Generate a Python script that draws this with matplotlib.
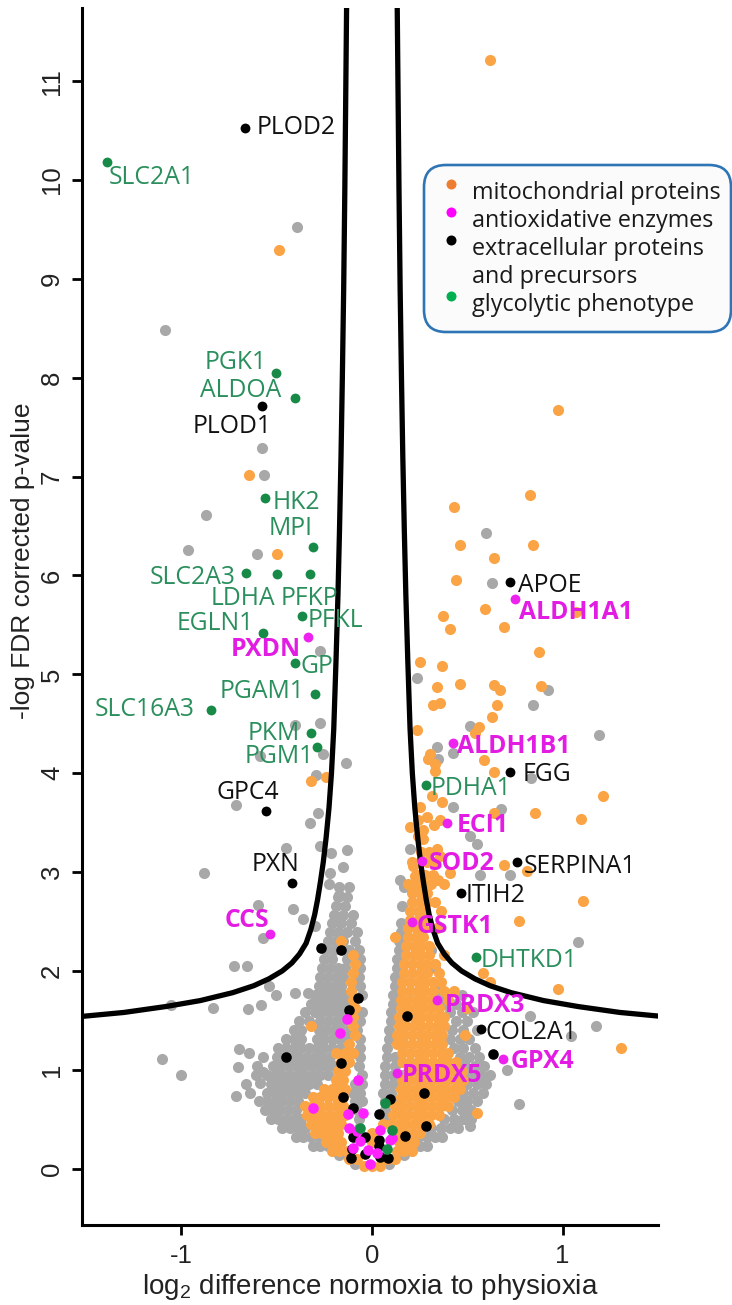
import matplotlib
matplotlib.use("Agg")
import matplotlib.pyplot as plt
from matplotlib.patches import FancyBboxPatch
from matplotlib.lines import Line2D

W, H = 732, 1305

# --- background proteins (y, [x ...]) ---
grey_rows = [
    (0.05, [-0.09, 0.09]),
    (0.14, [-0.17, -0.13, 0.13, 0.17]),
    (0.23, [-0.31, -0.27, -0.23, 0.21, 0.25, 0.29]),
    (0.32, [-0.40, -0.36, -0.32, -0.28, 0.24, 0.29, 0.33, 0.37]),
    (0.41, [-0.47, -0.43, -0.39, -0.35, -0.07, 0.31, 0.36, 0.41, 0.45]),
    (0.50, [-0.53, -0.49, -0.45, -0.41, -0.37, -0.07, 0.07, 0.38, 0.43, 0.48, 0.52]),
    (0.59, [-0.56, -0.52, -0.48, -0.44, -0.40, -0.08, 0.07, 0.42, 0.47, 0.52]),
    (0.68, [-0.59, -0.55, -0.51, -0.47, -0.43, -0.39, -0.09, -0.05, 0.07, 0.11, 0.45, 0.50, 0.55]),
    (0.77, [-0.64, -0.55, -0.51, -0.47, -0.43, -0.39, -0.35, -0.10, -0.06, 0.06, 0.10, 0.48, 0.53, 0.58]),
    (0.86, [-0.66, -0.53, -0.49, -0.45, -0.41, -0.37, -0.33, -0.29, -0.09, -0.05, 0.07, 0.11, 0.50, 0.55, 0.60]),
    (0.95, [-0.61, -0.55, -0.51, -0.47, -0.43, -0.39, -0.35, -0.31, -0.27, -0.23, -0.05, 0.07, 0.11, 0.15, 0.52, 0.57, 0.62]),
    (1.04, [-0.60, -0.52, -0.48, -0.44, -0.40, -0.36, -0.32, -0.28, -0.24, -0.20, -0.07, 0.07, 0.12, 0.49, 0.54, 0.59]),
    (1.13, [-0.57, -0.50, -0.46, -0.42, -0.38, -0.34, -0.30, -0.26, -0.22, -0.06, 0.08, 0.12, 0.46, 0.51, 0.56]),
    (1.22, [-0.49, -0.45, -0.41, -0.37, -0.33, -0.29, -0.25, -0.21, -0.16, -0.06, 0.08, 0.43, 0.48, 0.54]),
    (1.31, [-0.45, -0.41, -0.37, -0.29, -0.25, -0.21, -0.17, -0.13, -0.06, 0.09, 0.41, 0.46, 0.51]),
    (1.40, [-0.41, -0.37, -0.28, -0.24, -0.20, -0.16, -0.12, -0.08, 0.09, 0.42, 0.48, 0.55]),
    (1.49, [-0.38, -0.33, -0.27, -0.23, -0.19, -0.15, -0.06, 0.10, 0.44, 0.50]),
    (1.58, [-0.35, -0.30, -0.26, -0.22, -0.18, -0.14, -0.05, 0.10, 0.41, 0.47, 0.53]),
    (1.67, [-0.32, -0.28, -0.24, -0.20, -0.16, -0.12, 0.11, 0.38, 0.44]),
    (1.76, [-0.30, -0.26, -0.22, -0.18, -0.14, -0.05, 0.11, 0.36, 0.47]),
    (1.85, [-0.28, -0.24, -0.20, -0.16, -0.06, 0.12, 0.34]),
    (1.94, [-0.27, -0.23, -0.19, -0.15, -0.07, 0.12]),
    (2.03, [-0.26, -0.22, -0.18, -0.14, -0.06, 0.13, 0.33]),
    (2.12, [-0.25, -0.21, -0.13, -0.06, 0.13]),
    (2.21, [-0.24, -0.20, -0.12, -0.07, 0.14, 0.31]),
    (2.30, [-0.23, -0.19, -0.15, -0.09, 0.14]),
    (2.39, [-0.22, -0.18, -0.13, -0.08, 0.15]),
    (2.48, [-0.21, -0.16, -0.11, 0.15]),
    (2.57, [-0.20, -0.15, -0.10]),
    (2.66, [-0.19, -0.14, 0.16]),
    (2.75, [-0.18, -0.13]),
    (2.85, [-0.17, -0.12, 0.17]),
    (3.05, [-0.15]),
]

grey_extra = [
    (-0.391, 9.52), (-1.086, 8.48), (-0.574, 7.29), (-0.568, 7.02), (-0.87, 6.61),
    (-0.963, 6.26), (-0.602, 6.22), (-0.27, 5.24), (-0.405, 4.49), (-0.27, 4.51),
    (-0.256, 4.19), (-0.138, 4.10), (-0.589, 4.17), (-0.291, 3.98), (-0.712, 3.68),
    (-0.281, 3.60), (-0.326, 3.50), (-0.449, 3.24), (-0.27, 3.26), (-0.212, 3.19),
    (-0.13, 3.22), (-0.882, 2.99), (-0.221, 2.99), (-0.598, 2.67), (-0.414, 2.63),
    (-0.572, 2.33), (-0.172, 2.77), (-0.225, 2.88), (-0.721, 2.05), (-0.656, 2.05),
    (-0.362, 2.53), (-0.30, 2.45), (-0.651, 1.61), (-0.58, 1.66), (-0.835, 1.63),
    (-1.054, 1.66), (-0.505, 1.76), (-0.537, 1.85), (-0.405, 1.78), (-0.335, 1.78),
    (-1.098, 1.11), (-1.002, 0.95), (-0.712, 0.73), (-0.695, 1.21), (-0.642, 1.17),
    (-0.704, 1.03), (-0.572, 0.98), (-0.589, 0.87), (-0.523, 0.60), (-0.456, 0.44),
    (0.60, 6.43), (0.632, 5.92), (0.235, 4.96), (0.925, 4.84), (0.846, 4.69),
    (0.516, 4.48), (1.19, 4.39), (0.34, 4.27), (0.425, 4.20), (0.344, 4.14),
    (0.832, 3.95), (0.423, 3.66), (0.679, 3.64), (0.516, 3.36), (0.551, 3.28),
    (0.20, 3.23), (0.726, 2.97), (0.568, 2.97), (0.147, 2.92), (1.081, 2.29),
    (0.828, 1.54), (1.177, 1.44), (1.042, 1.34), (0.709, 1.00), (0.77, 0.65),
    (0.495, 0.50), (0.516, 0.43),
]

orange_rows = [
    (0.03, [-0.04, 0.0, 0.04]),
    (0.10, [-0.12, -0.08, 0.08, 0.12]),
    (0.18, [-0.21, -0.17, -0.13, 0.13, 0.17, 0.21]),
    (0.27, [-0.24, -0.20, -0.16, 0.0, 0.14, 0.18, 0.22]),
    (0.36, [-0.30, -0.26, -0.22, -0.18, 0.0, 0.13, 0.17, 0.21, 0.25]),
    (0.45, [-0.32, -0.28, -0.24, -0.20, -0.16, 0.06, 0.10, 0.14, 0.18, 0.22, 0.26, 0.30]),
    (0.54, [-0.34, -0.30, -0.26, -0.22, -0.18, -0.14, 0.11, 0.15, 0.19, 0.23, 0.27, 0.31, 0.35]),
    (0.63, [-0.35, -0.31, -0.27, -0.23, -0.19, -0.15, 0.12, 0.16, 0.20, 0.24, 0.28, 0.32, 0.36, 0.40]),
    (0.72, [-0.31, -0.27, -0.23, -0.19, -0.15, 0.15, 0.19, 0.23, 0.27, 0.31, 0.35, 0.39, 0.43]),
    (0.81, [-0.25, -0.21, -0.17, -0.14, 0.15, 0.19, 0.23, 0.27, 0.31, 0.35, 0.39, 0.43, 0.46]),
    (0.90, [-0.19, -0.15, 0.16, 0.20, 0.24, 0.28, 0.32, 0.36, 0.40, 0.44, 0.48]),
    (0.99, [-0.18, -0.14, 0.19, 0.23, 0.27, 0.31, 0.35, 0.39, 0.43, 0.47]),
    (1.08, [-0.16, -0.12, 0.16, 0.20, 0.24, 0.28, 0.32, 0.36, 0.40, 0.44]),
    (1.17, [-0.19, -0.14, -0.10, 0.16, 0.20, 0.24, 0.28, 0.32, 0.36, 0.40]),
    (1.26, [-0.12, 0.13, 0.17, 0.21, 0.25, 0.29, 0.33, 0.37]),
    (1.35, [-0.09, 0.13, 0.17, 0.21, 0.25, 0.29, 0.33, 0.37, 0.49]),
    (1.44, [-0.32, -0.10, 0.14, 0.18, 0.22, 0.26, 0.30, 0.34, 0.38]),
    (1.53, [-0.10, 0.14, 0.18, 0.22, 0.26, 0.30, 0.34, 0.38]),
    (1.62, [-0.09, 0.15, 0.19, 0.23, 0.27, 0.31, 0.35, 0.50]),
    (1.71, [-0.10, 0.15, 0.19, 0.23, 0.27, 0.31, 0.40]),
    (1.80, [-0.11, 0.16, 0.20, 0.24, 0.28, 0.32, 0.38, 0.43]),
    (1.89, [-0.11, 0.16, 0.20, 0.24, 0.28, 0.32, 0.36, 0.62]),
    (1.98, [-0.10, 0.17, 0.21, 0.25, 0.29, 0.35, 0.58]),
    (2.07, [-0.09, 0.17, 0.21, 0.25, 0.29, 0.33]),
    (2.16, [-0.10, 0.18, 0.22, 0.26, 0.30, 0.38]),
    (2.25, [0.18, 0.22, 0.26, 0.30]),
    (2.34, [0.12, 0.19, 0.23, 0.27]),
    (2.43, [0.19, 0.23, 0.27, 0.34]),
    (2.52, [0.20, 0.24, 0.28]),
    (2.61, [0.20, 0.24, 0.28, 0.36]),
    (2.70, [0.21, 0.25, 0.29, 0.33]),
    (2.79, [0.21, 0.25, 0.29]),
    (2.88, [0.19, 0.23, 0.27, 0.31, 0.38]),
    (2.97, [0.24, 0.28, 0.32]),
    (3.10, [0.21, 0.25, 0.29, 0.33]),
    (3.20, [0.26, 0.30]),
]

orange_extra = [
    (-0.488, 9.29), (-0.646, 7.02), (-0.498, 6.22), (-0.321, 3.92), (-0.242, 3.96),
    (-0.16, 2.30),
    (0.621, 11.21), (0.977, 7.67), (0.828, 6.81), (0.433, 6.69), (0.46, 6.31),
    (0.844, 6.31), (0.639, 6.18), (0.442, 5.95), (0.591, 5.66), (0.375, 5.59),
    (0.407, 5.46), (0.695, 5.48), (1.068, 5.63), (0.875, 5.23), (0.254, 5.12),
    (0.367, 5.08), (0.34, 4.87), (0.46, 4.90), (0.639, 4.89), (0.67, 4.84),
    (0.884, 4.88), (0.319, 4.69), (0.358, 4.71), (0.656, 4.69), (0.63, 4.57),
    (0.235, 4.44), (0.56, 4.47), (0.542, 4.41), (0.305, 4.19), (0.332, 4.09),
    (0.296, 4.14), (0.586, 4.13), (0.639, 4.01), (0.332, 4.02), (1.212, 3.77),
    (0.253, 3.66), (0.367, 3.71), (0.314, 3.77), (0.639, 3.60), (0.854, 3.60),
    (1.098, 3.54), (0.244, 3.53), (0.27, 3.43), (0.288, 3.56), (0.20, 3.46),
    (0.323, 3.48), (0.358, 3.53), (0.34, 3.23), (0.358, 3.16), (0.244, 3.36),
    (0.27, 3.33), (0.691, 3.07), (0.814, 3.01), (0.218, 3.06), (0.226, 2.96),
    (0.349, 2.92), (0.411, 2.99), (1.109, 2.71), (0.77, 2.50), (0.977, 1.82),
    (1.305, 1.22), (0.551, 0.56),
]

# unlabeled members of the highlighted groups (mostly near the origin)
black_pts = [
    (-0.453, 1.13), (-0.265, 2.23), (-0.16, 2.21), (-0.075, 1.73), (-0.121, 1.60),
    (-0.16, 1.07), (-0.151, 0.72), (-0.10, 0.61), (0.182, 1.54), (0.274, 0.77),
    (0.284, 0.43), (0.633, 1.16), (0.095, 0.70), (0.039, 0.55), (-0.10, 0.32),
    (-0.037, 0.32), (0.174, 0.33), (0.039, 0.29), (-0.107, 0.11), (0.086, 0.11),
    (0.042, 0.12), (-0.105, 0.20), (-0.035, 0.15), (0.035, 0.23),
]
magenta_pts = [
    (-0.133, 1.51), (-0.168, 1.37), (-0.072, 0.90), (-0.309, 0.61), (-0.124, 0.55),
    (-0.046, 0.56), (-0.119, 0.41), (-0.077, 0.38), (0.042, 0.39), (-0.063, 0.28),
    (-0.019, 0.19), (0.025, 0.16), (0.095, 0.29), (-0.098, 0.21), (-0.011, 0.05),
    (0.104, 0.31),
]
green_pts = [(0.068, 0.66), (-0.063, 0.41), (0.104, 0.39), (0.081, 0.20)]

# significance curve (|x|, y), mirrored for the left branch
curve_abs_x = [1.52, 1.30, 1.08, 0.90, 0.73, 0.62, 0.54, 0.47, 0.42, 0.38, 0.345,
               0.32, 0.30, 0.285, 0.27, 0.255, 0.24, 0.225, 0.212, 0.20, 0.188,
               0.178, 0.17, 0.162, 0.155, 0.148, 0.142, 0.137, 0.132]
curve_y = [1.54, 1.58, 1.64, 1.70, 1.78, 1.85, 1.92, 2.00, 2.08, 2.17, 2.28,
           2.42, 2.57, 2.72, 2.90, 3.10, 3.35, 3.65, 4.00, 4.45, 5.15,
           5.80, 6.45, 7.20, 8.00, 8.90, 9.90, 10.9, 11.9]

# labeled proteins
gene_names = ["PLOD2", "SLC2A1", "PGK1", "ALDOA", "PLOD1", "HK2", "MPI", "SLC2A3",
              "LDHA", "PFKP", "PFKL", "EGLN1", "PXDN", "GP", "PGAM1", "SLC16A3",
              "PKM", "PGM1", "GPC4", "PXN", "CCS", "APOE", "ALDH1A1", "ALDH1B1",
              "FGG", "PDHA1", "ECI1", "SOD2", "SERPINA1", "ITIH2", "GSTK1",
              "DHTKD1", "PRDX3", "COL2A1", "GPX4", "PRDX5"]
gene_x = [-0.665, -1.388, -0.505, -0.404, -0.577, -0.561, -0.309, -0.658,
          -0.496, -0.326, -0.365, -0.570, -0.335, -0.404, -0.298, -0.846,
          -0.321, -0.286, -0.554, -0.421, -0.533, 0.725, 0.749, 0.423,
          0.726, 0.281, 0.396, 0.261, 0.761, 0.468, 0.209,
          0.547, 0.34, 0.574, 0.688, 0.133]
gene_y = [10.53, 10.18, 8.05, 7.80, 7.71, 6.78, 6.29, 6.02,
          6.01, 6.01, 5.59, 5.42, 5.38, 5.11, 4.80, 4.64,
          4.41, 4.27, 3.62, 2.89, 2.37, 5.93, 5.76, 4.31,
          4.01, 3.88, 3.50, 3.11, 3.10, 2.79, 2.49,
          2.14, 1.71, 1.41, 1.11, 0.97]
gene_group = ["extra", "glyco", "glyco", "glyco", "extra", "glyco", "glyco", "glyco",
              "glyco", "glyco", "glyco", "glyco", "antiox", "glyco", "glyco", "glyco",
              "glyco", "glyco", "extra", "extra", "antiox", "extra", "antiox", "antiox",
              "extra", "glyco", "antiox", "antiox", "extra", "extra", "antiox",
              "glyco", "antiox", "extra", "antiox", "antiox"]

# label placement relative to its dot, in pixels (dx right, dy down)
label_offsets = [(12, 0, "left"), (2, 15, "left"), (-9, -10, "right"), (-14, -7, "right"),
                 (10, 20, "right"), (8, 4, "left"), (0, -18, "right"), (-11, 4, "right"),
                 (-2, 24, "right"), (-29, 24, "left"), (5, 4, "left"), (-9, -9, "right"),
                 (-7, 13, "right"), (6, 3, "left"), (-11, -3, "right"), (-16, 0, "right"),
                 (-11, 1, "right"), (-3, 10, "right"), (13, -18, "right"), (8, -18, "right"),
                 (-1, -14, "right"), (8, 3, "left"), (4, 13, "left"), (4, 4, "left"),
                 (12, 2, "left"), (5, 3, "left"), (9, 3, "left"), (7, 2, "left"),
                 (7, 4, "left"), (4, 3, "left"), (5, 4, "left"),
                 (4, 3, "left"), (8, 6, "left"), (4, 3, "left"), (7, 3, "left"), (4, 3, "left")]

legend_labels = ["mitochondrial proteins", "antioxidative enzymes",
                 "extracellular proteins\nand precursors", "glycolytic phenotype"]

dot_colors = {"glyco": "#188a48", "extra": "#000000", "antiox": "#ee22ee"}
text_colors = {"glyco": "#2a8f5c", "extra": "#111111", "antiox": "#e31ce3"}
legend_colors = ["#ed7d31", "#ff00ff", "#000000", "#00b050"]

LABEL_FONT = ["Open Sans", "DejaVu Sans"]


def unpack_rows(rows, extra):
    xs, ys = [], []
    for y, row in rows:
        for x in row:
            xs.append(x)
            ys.append(y)
    for x, y in extra:
        xs.append(x)
        ys.append(y)
    return xs, ys


def fx(px):
    return px / W


def fy(py):
    return 1 - py / H


def make_graph():
    plt.rcParams["font.family"] = ["Liberation Sans", "DejaVu Sans"]
    plt.rcParams["axes.unicode_minus"] = False
    plt.rcParams["mathtext.fontset"] = "custom"
    plt.rcParams["mathtext.rm"] = "Liberation Sans"

    fig = plt.figure(figsize=(W / 100, H / 100), dpi=100)
    ax = fig.add_axes([82 / W, 1 - 1225 / H, 576 / W, 1217 / H])

    gx, gy = unpack_rows(grey_rows, grey_extra)
    ox, oy = unpack_rows(orange_rows, orange_extra)
    ax.scatter(gx, gy, s=64, color="#a8a8a8", linewidths=0, zorder=2)
    ax.scatter(ox, oy, s=64, color="#fba446", linewidths=0, zorder=2.1)

    for pts, col in [(black_pts, "#000000"), (magenta_pts, "#ff22ff"), (green_pts, "#188a48")]:
        ax.scatter([p[0] for p in pts], [p[1] for p in pts], s=58, color=col,
                   linewidths=0, zorder=3)

    ax.plot(curve_abs_x, curve_y, color="black", lw=3.8, zorder=4)
    ax.plot([-v for v in curve_abs_x], curve_y, color="black", lw=3.8, zorder=4)

    for name, x, y, grp, (dx, dy, ha) in zip(gene_names, gene_x, gene_y, gene_group, label_offsets):
        ax.scatter([x], [y], s=50, color=dot_colors[grp], linewidths=0, zorder=5)
        ax.annotate(name, (x, y), xytext=(dx * 0.72, -dy * 0.72), textcoords="offset points",
                    ha=ha, va="center", fontsize=17.8, family=LABEL_FONT,
                    color=text_colors[grp], fontweight="bold" if grp == "antiox" else "normal",
                    zorder=6)

    ax.set_xlim(-1.52, 1.50)
    ax.set_ylim(-0.57, 11.74)
    ax.set_xticks([-1, 0, 1])
    ax.set_yticks(range(0, 12))
    for side in ["top", "right"]:
        ax.spines[side].set_visible(False)
    for side in ["left", "bottom"]:
        ax.spines[side].set_linewidth(2.2)
    ax.tick_params(axis="both", direction="out", length=7, width=2, labelsize=18.5,
                   color="black", labelcolor="#222222")
    ax.tick_params(axis="x", pad=7)
    ax.tick_params(axis="y", pad=6, labelrotation=90)
    for lab in ax.get_yticklabels():
        lab.set_va("center")

    ax.set_xlabel(r"log$_{\mathrm{2}}$ difference normoxia to physioxia", fontsize=20,
                  color="#222222")
    ax.xaxis.set_label_coords(0.5, -0.039)
    ax.set_ylabel("-log FDR corrected p-value", fontsize=19, color="#222222")
    ax.yaxis.set_label_coords(-0.081, 0.546)

    # legend box
    box = FancyBboxPatch((fx(424), fy(332)), fx(307), 167 / H,
                         boxstyle="round,pad=0,rounding_size=0.03",
                         mutation_aspect=W / H,
                         transform=fig.transFigure, facecolor="#fbfbfb",
                         edgecolor="#2e75b6", linewidth=1.9, zorder=10)
    fig.add_artist(box)
    line_no = 0
    for label, col in zip(legend_labels, legend_colors):
        cy = 192.7 + line_no * 28.1
        fig.add_artist(Line2D([fx(450.7)], [fy(cy - 9)], marker="o", markersize=7.2,
                              color=col, markeredgewidth=0, transform=fig.transFigure,
                              zorder=11))
        for part in label.split("\n"):
            fig.text(fx(471.7), fy(192.7 + line_no * 28.1), part, ha="left", va="center",
                     fontsize=16.8, family=LABEL_FONT, color="#1a1a1a", zorder=11)
            line_no += 1

    fig.savefig("out.png", dpi=100)


def main():
    make_graph()


if __name__ == "__main__":
    main()
